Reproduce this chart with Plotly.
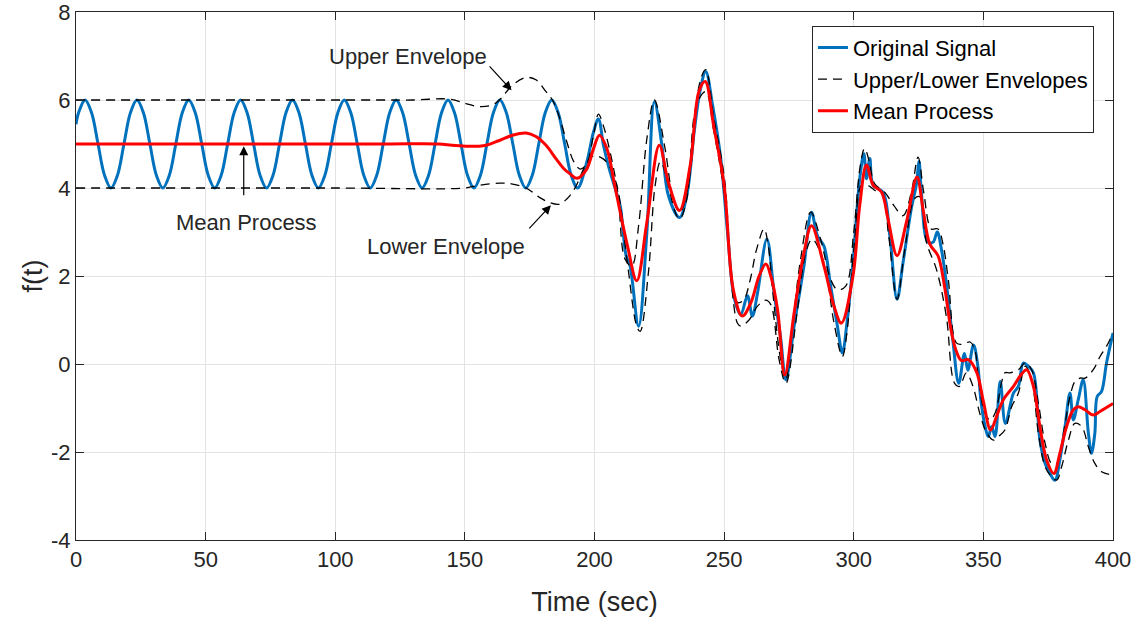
import plotly.graph_objects as go

# ---------------- data ----------------
# Original signal: steady oscillation part (0 .. 193.5 s)
sig_t_a = [0, 1, 3.5, 6, 8.5, 11, 13.5, 16, 18.5,
           21, 23.5, 26, 28.5, 31, 33.5, 36, 38.5,
           41, 43.5, 46, 48.5, 51, 53.5, 56, 58.5,
           61, 63.5, 66, 68.5, 71, 73.5, 76, 78.5,
           81, 83.5, 86, 88.5, 91, 93.5, 96, 98.5,
           101, 103.5, 106, 108.5, 111, 113.5, 116, 118.5,
           121, 123.5, 126, 128.5, 131, 133.5, 136, 138.5,
           141, 143.5, 146, 148.5, 151, 153.5, 156, 158.5,
           161, 163.5, 166, 168.5, 171, 173.5, 176, 178.5,
           181, 183.5, 186, 188.5, 191, 193.5]
sig_y_a = [5.45, 5.71, 6.0, 5.71, 5.0, 4.29, 4.0, 4.29, 5.0,
           5.71, 6.0, 5.71, 5.0, 4.29, 4.0, 4.29, 5.0,
           5.71, 6.0, 5.71, 5.0, 4.29, 4.0, 4.29, 5.0,
           5.71, 6.0, 5.71, 5.0, 4.29, 4.0, 4.29, 5.0,
           5.71, 6.0, 5.71, 5.0, 4.29, 4.0, 4.29, 5.0,
           5.71, 6.0, 5.71, 5.0, 4.29, 4.0, 4.29, 5.0,
           5.71, 6.0, 5.71, 5.0, 4.29, 4.0, 4.29, 5.0,
           5.71, 6.0, 5.71, 5.0, 4.29, 4.0, 4.29, 5.0,
           5.71, 6.0, 5.71, 5.0, 4.29, 4.0, 4.29, 5.0,
           5.71, 6.0, 5.71, 5.0, 4.29, 4.0]
# Original signal: irregular part
sig_t_b = [197.0, 199.6, 201.5, 203.5, 205.4, 208.0, 209.9, 212.2, 213.7, 217.0,
           220.2, 223.1, 226.0, 228.5, 232.8, 235.6, 238.5, 240.7, 242.9, 245.5,
           248.7, 251.3, 253.9, 256.4, 259.0, 260.9, 262.9, 266.5, 269.3, 271.8,
           273.8, 277.0, 280.8, 283.7, 286.0, 288.5, 291.1, 293.7, 295.6, 297.5,
           299.7, 302.3, 303.9, 304.9, 306.2, 307.5, 311.3, 313.9, 316.7, 319.0,
           322.2, 324.1, 325.2, 326.0, 328.6, 330.6, 332.2, 333.8, 335.7, 338.2,
           340.5, 342.7, 344.0, 346.2, 347.9, 349.0, 350.6, 351.9, 353.2, 354.5,
           356.5, 358.5, 361.6, 363.5, 365.4, 367.3, 369.3, 371.8, 373.8, 375.7,
           377.6, 379.5, 381.5, 383.4, 384.7, 386.6, 388.5, 390.5, 391.7, 393.0,
           393.9, 395.6, 397.5, 400.0]
sig_y_b = [4.58, 5.27, 5.57, 4.96, 4.5, 3.98, 3.6, 2.46, 2.23, 0.86,
           2.99, 5.96, 4.97, 3.83, 3.33, 3.83, 5.3, 6.2, 6.65, 5.9,
           4.67, 3.0, 1.5, 1.12, 1.55, 1.09, 1.62, 2.84, 1.6, 0.6,
           -0.36, 0.86, 2.23, 3.45, 2.91, 2.68, 1.77, 0.86, 0.25, 1.0,
           2.3, 4.21, 4.78, 4.21, 4.67, 4.06, 3.9, 2.92, 1.47, 2.3,
           3.53, 4.06, 4.6, 3.98, 2.77, 2.77, 3.0, 2.61, 1.85, 0.55,
           -0.44, 0.24, -0.14, 0.43, -0.06, -0.8, -1.4, -1.65, -1.42, -1.65,
           -0.4, -1.35, -0.66, -0.51, 0.02, -0.05, -0.2, -1.73, -2.26, -2.49,
           -2.64, -2.18, -1.42, -0.66, -1.27, -0.81, -0.36, -1.57, -2.03, -1.57,
           -0.74, -0.62, 0.02, 0.7]

# Mean process
mean_t = [0, 40, 80, 120, 140, 145, 150.4, 155, 158.2, 163.3, 168.4, 173.6, 177.4,
          181.3, 185.2, 188.0, 190.6, 193.2, 197.0, 199.6, 201.9, 204.8, 208.0,
          212.7, 216.3, 220.2, 225.0, 228.5, 232.8, 236.9, 240.3, 242.7, 246.0,
          250.0, 253.5, 257.0, 260.3, 263.5, 266.1, 268.0, 270.6, 273.4, 277.0,
          280.8, 283.7, 288.5, 292.4, 295.2, 299.7, 302.3, 304.9, 307.5, 310.7,
          313.2, 316.7, 320.3, 324.4, 326.7, 329.3, 332.5, 335.0, 337.6, 339.5,
          341.5, 344.2, 347.5, 350.0, 352.8, 355.1, 357.7, 361.6, 364.1, 366.7,
          369.3, 371.8, 374.4, 377.2, 379.5, 382.1, 384.7, 386.6, 389.2, 392.4,
          395.0, 400.0]
mean_y = [5.0, 5.0, 5.0, 5.0, 5.0, 4.97, 4.95, 4.95, 4.97, 5.08, 5.2, 5.25, 5.17,
          4.97, 4.66, 4.45, 4.32, 4.22, 4.43, 4.89, 5.2, 4.89, 4.0,
          2.69, 1.89, 3.22, 4.97, 4.13, 3.49, 4.51, 6.2, 6.42, 5.4,
          4.06, 1.7, 1.09, 1.39, 2.0, 2.27, 2.0, 1.24, -0.25, 1.16,
          2.53, 3.14, 2.23, 1.31, 0.93, 2.0, 3.6, 4.52, 4.06, 3.91,
          3.3, 2.46, 3.22, 4.25, 3.53, 2.73, 2.46, 1.77, 0.75, 0.3,
          0.08, 0.1, -0.2, -0.85, -1.5, -1.19, -0.81, -0.51, -0.28, -0.13,
          -0.51, -1.42, -2.18, -2.49, -2.03, -1.42, -1.04, -0.97, -1.04, -1.16,
          -1.08, -0.9]

# Upper envelope
up_t = [0, 40, 80, 120, 130, 144, 150.4, 155.6, 160.7, 164.0, 168.4, 173.6, 177.4,
        181.3, 183.8, 186.5, 189.3, 192.0, 194.5, 197.0, 199.6, 201.5, 203.5,
        206.0, 209.0, 211.8, 214.4, 217.0, 220.2, 223.1, 227.2, 230.4, 233.0,
        236.0, 240.7, 242.9, 246.0, 250.0, 255.1, 257.5, 260.0, 262.5, 265.4,
        267.0, 269.0, 271.8, 273.8, 275.7, 279.5, 283.4, 287.2, 291.1, 293.7,
        296.9, 300.0, 302.5, 304.2, 306.0, 308.0, 312.0, 315.5, 319.0, 322.2,
        324.8, 327.0, 329.9, 332.5, 334.5, 336.5, 339.6, 342.0, 344.9, 346.8,
        348.1, 350.6, 352.6, 354.5, 357.1, 358.3, 360.3, 363.5, 366.1, 368.6,
        371.2, 373.8, 376.3, 378.3, 380.9, 383.4, 385.3, 387.3, 389.2, 392.4,
        395.0, 397.5, 400.0]
up_y = [6.0, 6.0, 6.0, 6.0, 6.0, 6.02, 5.92, 5.85, 5.89, 6.04, 6.34, 6.51, 6.46,
        6.19, 6.0, 5.6, 5.05, 4.6, 4.43, 4.55, 5.19, 5.68, 5.4,
        4.82, 3.9, 2.38, 2.23, 3.14, 5.12, 6.0, 4.9, 3.75, 3.45,
        4.0, 6.42, 6.69, 5.6, 4.28, 1.4, 1.45, 1.9, 2.6, 3.07,
        2.7, 1.5, 0.1, -0.35, 0.47, 2.38, 3.45, 2.84, 1.92, 1.69,
        1.77, 3.0, 4.5, 4.9, 4.6, 4.1, 3.9, 3.6, 3.37, 3.9,
        4.7, 3.9, 3.07, 3.07, 2.7, 1.9, 0.48, 0.45, 0.5, 0.3,
        -0.36, -1.12, -1.27, -1.12, -0.4, -0.2, -0.2, -0.13, 0.02, -0.13,
        -0.89, -1.8, -2.26, -2.26, -1.57, -0.74, -0.4, -0.32, -0.32, -0.13,
        0.17, 0.4, 0.71]

# Lower envelope
lo_t = [0, 50, 100, 150, 154.3, 163.3, 168.4, 173.6, 178.7, 182.6, 186.4, 189.3,
        192.5, 196.0, 199.6, 202.2, 204.8, 208.6, 212.5, 216.3, 217.6, 220.8,
        223.4, 225.5, 231.7, 233.0, 235.6, 239.4, 242.9, 246.0, 250.0, 255.1,
        256.4, 259.6, 262.8, 266.0, 268.0, 271.2, 273.8, 278.3, 281.5, 284.0,
        288.5, 292.4, 295.6, 297.2, 300.4, 303.0, 305.5, 308.0, 311.0, 313.5,
        316.7, 319.7, 323.5, 325.5, 328.0, 331.9, 335.7, 338.9, 340.8, 343.4,
        346.0, 348.6, 351.3, 353.9, 355.8, 358.3, 360.9, 363.5, 366.1, 368.6,
        371.2, 373.8, 376.3, 378.3, 380.2, 382.8, 385.3, 387.9, 390.5, 393.0,
        395.6, 400.0]
lo_y = [4.0, 4.0, 4.0, 4.0, 4.05, 4.11, 4.09, 4.0, 3.79, 3.67, 3.63, 3.75,
        4.0, 4.45, 4.73, 4.7, 4.58, 4.06, 2.38, 0.86, 0.74, 2.08,
        4.06, 4.6, 3.37, 3.3, 3.75, 5.9, 6.19, 5.3, 3.9, 0.93,
        0.86, 1.0, 1.31, 1.45, 1.35, 0.1, -0.44, 1.24, 2.53, 2.84,
        2.3, 0.93, 0.17, 0.63, 2.84, 4.06, 4.06, 3.95, 3.85, 2.9,
        1.47, 2.61, 3.76, 3.8, 2.77, 2.15, 1.09, -0.44, -0.51, -0.2,
        -0.51, -1.12, -1.57, -1.73, -1.65, -1.5, -0.97, -0.66, -0.05, -0.36,
        -1.57, -2.33, -2.56, -2.64, -2.33, -1.73, -1.35, -1.42, -1.88, -2.26,
        -2.45, -2.52]

x_ticks = [0, 50, 100, 150, 200, 250, 300, 350, 400]
x_tick_labels = ["0", "50", "100", "150", "200", "250", "300", "350", "400"]
y_ticks = [-4, -2, 0, 2, 4, 6, 8]
y_tick_labels = ["-4", "-2", "0", "2", "4", "6", "8"]

# ---------------- figure ----------------
FONT = "Liberation Sans, Arial, Helvetica, sans-serif"
INK = "#262626"

sig_t = sig_t_a + sig_t_b
sig_y = sig_y_a + sig_y_b

fig = go.Figure()
fig.add_trace(go.Scatter(x=sig_t, y=sig_y, mode="lines", name="Original Signal",
                         line=dict(color="#0072BD", width=3, shape="spline", smoothing=1.0)))
fig.add_trace(go.Scatter(x=up_t, y=up_y, mode="lines", name="Upper/Lower Envelopes",
                         legendgroup="env",
                         line=dict(color="black", width=1.3, dash="9px,6px",
                                   shape="spline", smoothing=1.0)))
fig.add_trace(go.Scatter(x=lo_t, y=lo_y, mode="lines", name="Lower Envelope",
                         legendgroup="env", showlegend=False,
                         line=dict(color="black", width=1.3, dash="9px,6px",
                                   shape="spline", smoothing=1.0)))
fig.add_trace(go.Scatter(x=mean_t, y=mean_y, mode="lines", name="Mean Process",
                         line=dict(color="#FF0000", width=3, shape="spline", smoothing=1.0)))

axis_common = dict(showline=True, linecolor=INK, linewidth=1, mirror="ticks",
                   ticks="inside", ticklen=8, tickcolor=INK, tickwidth=1,
                   showgrid=True, gridcolor="#e3e3e3", gridwidth=1, zeroline=False,
                   automargin=False, ticklabeloverflow="allow",
                   tickfont=dict(family=FONT, size=22, color=INK))

fig.update_xaxes(range=[0, 400], tickvals=x_ticks, ticktext=x_tick_labels,
                 title=dict(text="Time (sec)", font=dict(family=FONT, size=27, color=INK),
                            standoff=20),
                 **axis_common)
fig.update_yaxes(range=[-4, 8], tickvals=y_ticks, ticktext=y_tick_labels,
                 title=dict(text="f(t)", font=dict(family=FONT, size=27, color=INK),
                            standoff=0),
                 **axis_common)

ann_font = dict(family=FONT, size=22, color=INK)
annotations = [
    dict(x=127.9, y=7.0, text="Upper Envelope", showarrow=False, font=ann_font),
    dict(x=65.9, y=3.21, text="Mean Process", showarrow=False, font=ann_font),
    dict(x=142.6, y=2.67, text="Lower Envelope", showarrow=False, font=ann_font),
]
arrows = [((159.0, 6.8), (168.0, 6.22)),
          ((64.7, 3.8), (64.7, 4.95)),
          ((174.3, 3.05), (183.2, 3.61))]
for (tx, ty), (hx, hy) in arrows:
    annotations.append(dict(x=hx, y=hy, ax=tx, ay=ty, axref="x", ayref="y",
                            xref="x", yref="y", text="", showarrow=True,
                            arrowhead=2, arrowsize=1.5, arrowwidth=1.2,
                            arrowcolor="black", standoff=0, startstandoff=0))

fig.update_layout(
    width=1141, height=624,
    margin=dict(l=76, r=28, t=12, b=84),
    plot_bgcolor="white", paper_bgcolor="white",
    font=dict(family=FONT, color=INK),
    annotations=annotations,
    showlegend=True,
    legend=dict(x=0.7097, y=0.974, xanchor="left", yanchor="top",
                bgcolor="white", bordercolor=INK, borderwidth=1,
                font=dict(family=FONT, size=22, color="black"),
                itemwidth=30, tracegroupgap=0),
)

fig.write_html("out.html")
